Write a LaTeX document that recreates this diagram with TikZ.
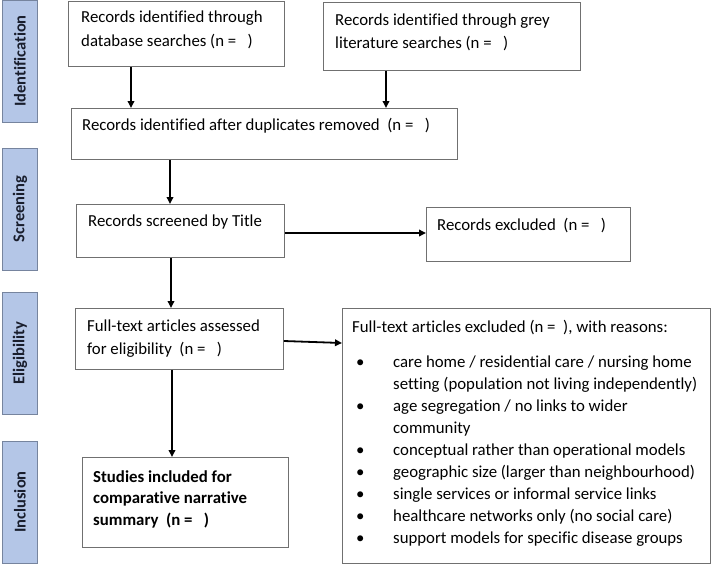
\documentclass[tikz,border=0pt]{standalone}
\usepackage{fontspec}
\setmainfont{Carlito}[Ligatures=NoCommon]
\usetikzlibrary{arrows.meta}
\definecolor{sidefill}{RGB}{180,198,231}
\definecolor{sidedraw}{RGB}{118,132,158}
\definecolor{boxdraw}{RGB}{112,112,112}
\definecolor{sidetext}{RGB}{25,30,45}
\tikzset{
  sidebox/.style={draw=sidedraw, fill=sidefill, line width=0.9pt, rotate=90,
    minimum width=122pt, minimum height=35pt, inner sep=0pt,
    font=\fontsize{16.5}{18}\selectfont\bfseries, text=sidetext},
  flowbox/.style={draw=boxdraw, line width=0.9pt, inner sep=0pt, anchor=north west},
  boxtext/.style={inner sep=0pt, anchor=base west, align=left,
    font=\fontsize{16.8}{23}\selectfont},
  arr/.style={line width=1.8pt, -{Triangle[length=7pt,width=6.5pt]}},
}
\begin{document}
\begin{tikzpicture}[x=1pt,y=-1pt]
\useasboundingbox (0,0) rectangle (712,566);
% side labels
\node[sidebox] (s1) at (20,61) {Identification};
\node[sidebox] (s2) at (20,209) {Screening};
\node[sidebox] (s3) at (20,353) {Eligibility};
\node[sidebox] (s4) at (20,502) {Inclusion};
% boxes
\node[flowbox, minimum width=216pt, minimum height=65pt] (b1) at (68,1) {};
\node[flowbox, minimum width=257pt, minimum height=68pt] (b2) at (323,2) {};
\node[flowbox, minimum width=386pt, minimum height=51pt] (b3) at (71,108) {};
\node[flowbox, minimum width=208pt, minimum height=53pt] (b4) at (76,204) {};
\node[flowbox, minimum width=204pt, minimum height=54pt] (b5) at (426,207) {};
\node[flowbox, minimum width=208pt, minimum height=61pt] (b6) at (75,308) {};
\node[flowbox, minimum width=368pt, minimum height=255pt] (b7) at (342,308) {};
\node[flowbox, minimum width=206pt, minimum height=90pt] (b8) at (82,457) {};
% texts (base anchor = baseline of the last line)
\node[boxtext, font=\fontsize{16.8}{24}\selectfont] (t1) at (81,46) {Records identified through\\database searches (n =\ \ \ )};
\node[boxtext] (t2) at (335,48) {Records identified through grey\\literature searches (n =\ \ \ )};
\node[boxtext] (t3) at (82,130) {Records identified after duplicates removed\ \ (n =\ \ \ )};
\node[boxtext] (t4) at (88,226) {Records screened by Title};
\node[boxtext] (t5) at (437,230) {Records excluded\ \ (n =\ \ \ )};
\node[boxtext] (t6) at (87,354) {Full-text articles assessed\\for eligibility\ \ (n =\ \ \ )};
\node[boxtext, font=\fontsize{16.8}{21.5}\selectfont\bfseries] (t8) at (93,525)
  {Studies included for\\comparative narrative\\summary\ \ (n =\ \ \ )};
\node[boxtext] (t7) at (352,332) {Full-text articles excluded (n =\ \ ), with reasons:};
\node[boxtext, font=\fontsize{16.8}{22}\selectfont] (t9) at (356,367) {%
\begin{tabular}[t]{@{}p{37pt}@{}l@{}}
\textbullet & care home / residential care / nursing home\\
 & setting (population not living independently)\\
\textbullet & age segregation / no links to wider\\
 & community\\
\textbullet & conceptual rather than operational models\\
\textbullet & geographic size (larger than neighbourhood)\\
\textbullet & single services or informal service links\\
\textbullet & healthcare networks only (no social care)\\
\textbullet & support models for specific disease groups
\end{tabular}};
% arrows
\draw[arr] ([xshift=63pt]b1.south west) -- ([xshift=63pt]b1.south west |- b3.north);
\draw[arr] ([xshift=63pt]b2.south west) -- ([xshift=63pt]b2.south west |- b3.north);
\draw[arr] ([xshift=99pt]b3.south west) -- ([xshift=99pt]b3.south west |- b4.north);
\draw[arr] ([yshift=-29pt]b4.north east) -- ([yshift=-29pt]b4.north east -| b5.west);
\draw[arr] ([xshift=95pt]b4.south west) -- ([xshift=95pt]b4.south west |- b6.north);
\draw[arr] ([yshift=-33pt]b6.north east) -- ([yshift=-35pt]b7.north west);
\draw[arr] ([xshift=97pt]b6.south west) -- ([xshift=97pt]b6.south west |- b8.north);
\end{tikzpicture}
\end{document}
